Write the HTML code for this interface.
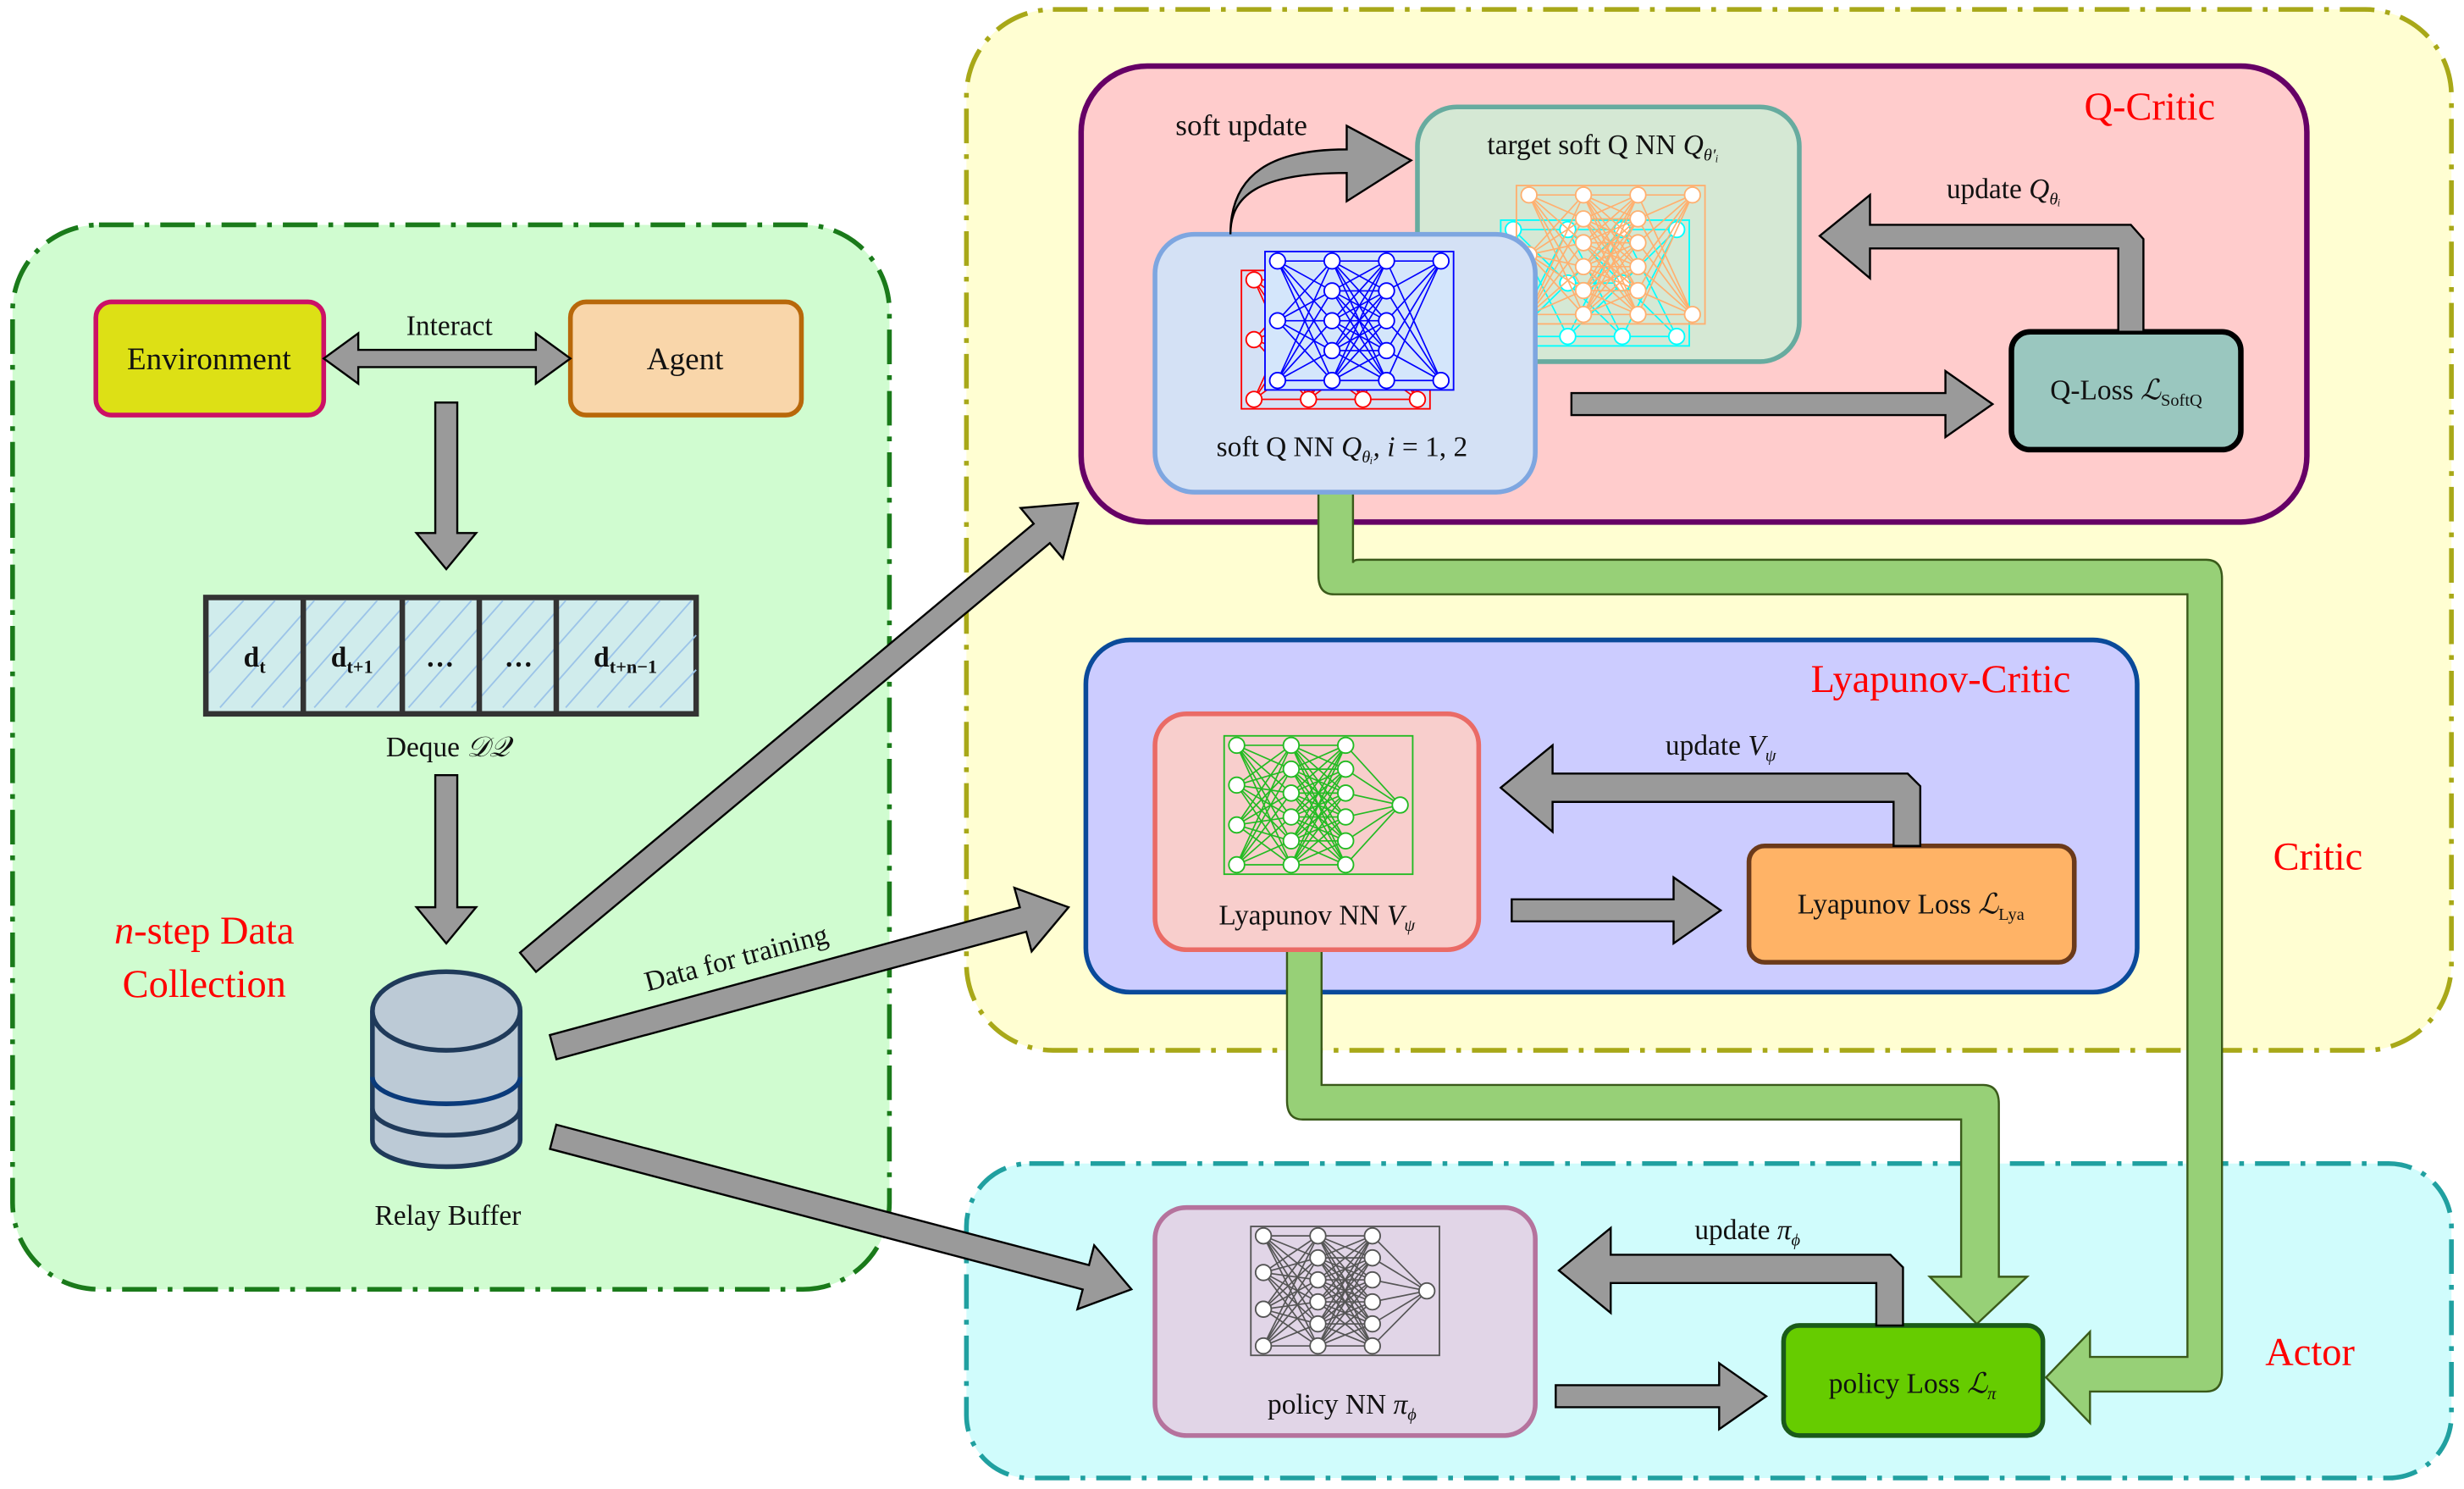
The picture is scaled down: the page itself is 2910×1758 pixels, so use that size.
<!DOCTYPE html>
<html><head><meta charset="utf-8"><style>
html,body{margin:0;padding:0;background:#fff}
svg{display:block}
text{font-family:"Liberation Serif",serif;fill:#111}
</style></head><body>
<svg id="s" width="2910" height="1758" viewBox="0 0 1568 947" preserveAspectRatio="none" xmlns="http://www.w3.org/2000/svg">
<rect x="0" y="0" width="1568" height="947" fill="#fff"/>
<rect x="8" y="143" width="558" height="677" rx="55" fill="#d0fcd0" stroke="#1a7a1a" stroke-width="3" stroke-dasharray="22,7,3,7"/>
<rect x="615" y="6" width="945" height="662" rx="55" fill="#fffed2" stroke="#a8a818" stroke-width="3" stroke-dasharray="22,7,3,7"/>
<rect x="615" y="740" width="945" height="200" rx="40" fill="#d0fcfc" stroke="#20a0a0" stroke-width="3" stroke-dasharray="22,7,3,7"/>
<rect x="688" y="42" width="780" height="290" rx="42" fill="#ffcccc" stroke="#660066" stroke-width="3.5"/>
<rect x="691" y="407" width="669" height="224" rx="28" fill="#ccccff" stroke="#0a4a9a" stroke-width="3"/>
<g id="pipes"></g>
<rect x="61" y="192" width="145" height="72" rx="10" fill="#dde015" stroke="#cc1066" stroke-width="3"/>
<text x="133" y="235" font-size="20" text-anchor="middle">Environment</text>
<rect x="363" y="192" width="147" height="72" rx="10" fill="#f9d6aa" stroke="#b8680a" stroke-width="3"/>
<text x="436" y="235" font-size="20" text-anchor="middle">Agent</text>
<text x="286" y="213" font-size="18" text-anchor="middle">Interact</text>
<rect x="131" y="380" width="312" height="74" fill="#d0ecec" stroke="#333" stroke-width="3.5"/>
<g stroke="#9cc4e8" stroke-width="1">
<path d="M140 450 L200 382 M160 450 L220 382 M180 450 L240 382 M200 450 L260 382 M220 450 L280 382 M240 450 L300 382 M260 450 L320 382 M280 450 L340 382 M300 450 L360 382 M320 450 L380 382 M340 450 L400 382 M360 450 L420 382 M380 450 L440 382 M400 450 L443 404 M420 450 L443 426 M133 428 L175 382 M133 405 L155 382"/>
</g>
<g stroke="#333" stroke-width="3.5"><path d="M193 380V454M256 380V454M305 380V454M354 380V454"/></g>
<text x="162" y="424" font-size="18" font-weight="bold" text-anchor="middle">d<tspan font-size="12" dy="4">t</tspan></text>
<text x="224" y="424" font-size="18" font-weight="bold" text-anchor="middle">d<tspan font-size="12" dy="4">t+1</tspan></text>
<text x="280" y="424" font-size="18" font-weight="bold" text-anchor="middle">…</text>
<text x="330" y="424" font-size="18" font-weight="bold" text-anchor="middle">…</text>
<text x="398" y="424" font-size="18" font-weight="bold" text-anchor="middle">d<tspan font-size="12" dy="4">t+n−1</tspan></text>
<text x="285" y="481" font-size="18" text-anchor="middle">Deque <tspan font-style="italic">𝒟𝒬</tspan></text>
<g fill="#bccad6" stroke="#1f3a5a" stroke-width="3">
<path d="M237 643 V725 A47 17 0 0 0 331 725 V643"/>
<ellipse cx="284" cy="643" rx="47" ry="25"/>
<path d="M237 685 A47 17 0 0 0 331 685" fill="none" stroke="#0a3a7a"/>
<path d="M237 705 A47 17 0 0 0 331 705" fill="none"/>
</g>
<text x="285" y="779" font-size="18" text-anchor="middle">Relay Buffer</text>
<text x="130" y="600" font-size="25" style="fill:#f00" text-anchor="middle"><tspan font-style="italic">n</tspan>-step Data</text>
<text x="130" y="634" font-size="25" style="fill:#f00" text-anchor="middle">Collection</text>
<text x="470" y="615" font-size="18" text-anchor="middle" transform="rotate(-15 470 615)">Data for training</text>
<rect x="902" y="68" width="243" height="162" rx="25" fill="#d5e8d4" stroke="#67ab9f" stroke-width="3"/>
<text x="1020" y="98" font-size="18" text-anchor="middle">target soft Q NN <tspan font-style="italic">Q</tspan><tspan font-size="11" dy="4" font-style="italic">θ′ᵢ</tspan></text>
<g id="netT"></g>
<rect x="735" y="149" width="242" height="164" rx="25" fill="#d4e1f5" stroke="#7ea6e0" stroke-width="3"/>
<g id="netQ"></g>
<text x="854" y="290" font-size="18" text-anchor="middle">soft Q NN <tspan font-style="italic">Q</tspan><tspan font-size="11" dy="4" font-style="italic">θᵢ</tspan><tspan dy="-4" font-style="italic">, i</tspan> = 1, 2</text>
<rect x="1280" y="211" width="146" height="75" rx="12" fill="#9ac7bf" stroke="#000" stroke-width="3.5"/>
<text x="1353" y="254" font-size="18" text-anchor="middle">Q-Loss <tspan font-style="italic">ℒ</tspan><tspan font-size="11" dy="4">SoftQ</tspan></text>
<text x="790" y="86" font-size="19" text-anchor="middle">soft update</text>
<text x="1275" y="126" font-size="18" text-anchor="middle">update <tspan font-style="italic">Q</tspan><tspan font-size="11" dy="4" font-style="italic">θᵢ</tspan></text>
<text x="1368" y="76" font-size="25" style="fill:#f00" text-anchor="middle">Q-Critic</text>
<rect x="735" y="454" width="206" height="150" rx="20" fill="#f8cecc" stroke="#ea6b66" stroke-width="3"/>
<g id="netL"></g>
<text x="838" y="588" font-size="18" text-anchor="middle">Lyapunov NN <tspan font-style="italic">V</tspan><tspan font-size="11" dy="4" font-style="italic">ψ</tspan></text>
<rect x="1113" y="538" width="207" height="74" rx="10" fill="#ffb366" stroke="#6b3a1a" stroke-width="3"/>
<text x="1216" y="581" font-size="18" text-anchor="middle">Lyapunov Loss <tspan font-style="italic">ℒ</tspan><tspan font-size="11" dy="4">Lya</tspan></text>
<text x="1095" y="480" font-size="18" text-anchor="middle">update <tspan font-style="italic">V</tspan><tspan font-size="11" dy="4" font-style="italic">ψ</tspan></text>
<text x="1235" y="440" font-size="25" style="fill:#f00" text-anchor="middle">Lyapunov-Critic</text>
<text x="1475" y="553" font-size="25" style="fill:#f00" text-anchor="middle">Critic</text>
<rect x="735" y="768" width="242" height="145" rx="20" fill="#e1d5e7" stroke="#b5739d" stroke-width="3"/>
<g id="netP"></g>
<text x="854" y="899" font-size="18" text-anchor="middle">policy NN <tspan font-style="italic">π</tspan><tspan font-size="11" dy="4" font-style="italic">ϕ</tspan></text>
<rect x="1135" y="843" width="165" height="70" rx="10" fill="#66cc00" stroke="#1a5a1a" stroke-width="3"/>
<text x="1217" y="886" font-size="18" text-anchor="middle">policy Loss <tspan font-style="italic">ℒ</tspan><tspan font-size="11" dy="4" font-style="italic">π</tspan></text>
<text x="1112" y="788" font-size="18" text-anchor="middle">update <tspan font-style="italic">π</tspan><tspan font-size="11" dy="4" font-style="italic">ϕ</tspan></text>
<text x="1470" y="868" font-size="25" style="fill:#f00" text-anchor="middle">Actor</text>
<g id="arrows"></g>
</svg>
<script>
var NS="http://www.w3.org/2000/svg";
function el(p,t,a){var e=document.createElementNS(NS,t);for(var k in a)e.setAttribute(k,a[k]);p.appendChild(e);return e;}
function net(id,x,y,w,h,L,col,bg){var g=document.getElementById(id);
 el(g,'rect',{x:x,y:y,width:w,height:h,fill:bg||'none',stroke:col,'stroke-width':1});
 var pts=[];for(var i=0;i<L.length;i++){var px=x+8+(w-16)*i/(L.length-1);var arr=[];for(var j=0;j<L[i];j++){arr.push([px,y+h/2+(j-(L[i]-1)/2)*(h-12)/Math.max(L[i]-1,1)*((L[i]>1)?1:0)]);}pts.push(arr);}
 for(var i=0;i<pts.length-1;i++)for(var a of pts[i])for(var b of pts[i+1])el(g,'line',{x1:a[0],y1:a[1],x2:b[0],y2:b[1],stroke:col,'stroke-width':0.9});
 for(var l of pts)for(var p of l)el(g,'circle',{cx:p[0],cy:p[1],r:5,fill:'#fff',stroke:col,'stroke-width':1});}
net('netT',955,140,120,80,[2,3,3,2],'#00ffff');
net('netT',965,118,120,88,[3,6,6,2],'#ffb070');
net('netQ',790,172,120,88,[3,4,4,2],'#ff0000');
net('netQ',805,160,120,88,[3,5,5,2],'#0000ff','#d4e6fb');
net('netL',779,468,120,88,[4,6,6,1],'#22bb22');
net('netP',796,780,120,82,[4,6,6,1],'#555');
var A=document.getElementById('arrows');
function blk(x1,y1,x2,y2,w,hw,hl,dbl){var dx=x2-x1,dy=y2-y1,L=Math.hypot(dx,dy),ux=dx/L,uy=dy/L,nx=-uy,ny=ux;
 function P(s,t){return (x1+ux*s+nx*t).toFixed(1)+','+(y1+uy*s+ny*t).toFixed(1);}
 var pts;if(dbl){pts=[P(0,0),P(hl,hw/2),P(hl,w/2),P(L-hl,w/2),P(L-hl,hw/2),P(L,0),P(L-hl,-hw/2),P(L-hl,-w/2),P(hl,-w/2),P(hl,-hw/2)];}
 else pts=[P(0,-w/2),P(L-hl,-w/2),P(L-hl,-hw/2),P(L,0),P(L-hl,hw/2),P(L-hl,w/2),P(0,w/2)];
 el(A,'polygon',{points:pts.join(' '),fill:'#9a9a9a',stroke:'#000','stroke-width':1.3});}
blk(206,228,363,228,11,32,22,true);
blk(284,256,284,362,14,38,23);
blk(284,493,284,600,14,38,23);
blk(336,612,686,320,16,42,30);
blk(352,666,680,577,16,42,30);
blk(352,723,720,820,16,42,30);
blk(1000,257,1268,257,14,42,30);
blk(962,579,1095,579,14,42,30);
blk(990,888,1124,888,14,42,30);
function bent(pts){el(A,'polygon',{points:pts,fill:'#9a9a9a',stroke:'#000','stroke-width':1.3});}
bent("1348,211 1364,211 1364,152 1356,143 1190,143 1190,124 1158,150 1190,177 1190,158 1348,158");
bent("1205,538 1222,538 1222,500 1214,492 988,492 988,474 955,501 988,529 988,510 1205,510");
bent("1194,843 1211,843 1211,806 1203,798 1025,798 1025,781 992,808 1025,835 1025,816 1194,816");
el(A,'path',{d:"M783 149 C783 125 800 110 857 110 L857 128 L898 102 L857 80 L857 95 C810 95 783 110 783 149 Z",fill:'#9a9a9a',stroke:'#000','stroke-width':1.3});
var G=document.getElementById('pipes');
function pipe(d){el(G,'path',{d:d,fill:'#97d077',stroke:'#3a5a1a','stroke-width':1.3});}
pipe("M839 313 H861 V358 Q861 356 865 356 H1404 Q1414 356 1414 368 V873 Q1414 885 1404 885 H1330 V905 L1302 876 L1330 847 V863 H1392 V378 H849 Q839 378 839 366 Z");
pipe("M819 604 H841 V690 H1262 Q1272 690 1272 702 V812 H1290 L1258 842 L1228 812 H1248 V712 H829 Q819 712 819 700 Z");
</script>
</body></html>
